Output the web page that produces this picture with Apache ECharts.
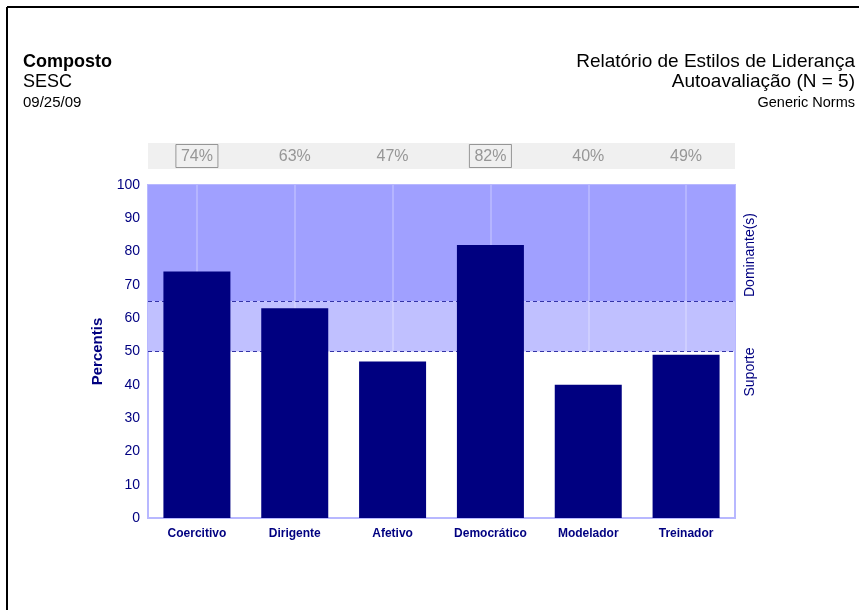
<!DOCTYPE html>
<html><head><meta charset="utf-8">
<script src="https://cdn.jsdelivr.net/npm/echarts@6/dist/echarts.min.js"></script>
<style>html,body{margin:0;padding:0;background:#fff}#c{width:859px;height:610px}</style>
</head><body><div id="c"></div>
<script>
const categories = ['Coercitivo','Dirigente','Afetivo','Democrático','Modelador','Treinador'];
const values = [74, 63, 47, 82, 40, 49];
const pctLabels = ['74%','63%','47%','82%','40%','49%'];
const dominantLimit = 65;
const supportLimit = 50;

const chart = echarts.init(document.getElementById('c'));
const navy = '#000080';
const F = 'Liberation Sans, Arial, sans-serif';
chart.setOption({
  animation: false,
  backgroundColor: '#fff',
  textStyle: {fontFamily: F},
  grid: [
    {left: 148, right: 124, top: 185, height: 333, show: true, borderColor: '#b8b8ff', borderWidth: 2, backgroundColor: 'transparent'},
    {left: 148, right: 124, top: 143, height: 26, show: true, borderWidth: 0, backgroundColor: '#f0f0f0'}
  ],
  xAxis: [
    {type: 'category', gridIndex: 0, data: categories,
     axisLine: {lineStyle: {color: '#b8b8ff', width: 2}}, axisTick: {show: false},
     axisLabel: {interval: 0, color: navy, fontWeight: 'bold', fontSize: 12, margin: 10},
     splitLine: {show: false}},
    {type: 'category', gridIndex: 1, data: categories, show: false}
  ],
  yAxis: [
    {type: 'value', gridIndex: 0, min: 0, max: 100, interval: 10,
     name: 'Percentis', nameLocation: 'middle', nameGap: 38, nameRotate: 90,
     nameTextStyle: {color: navy, fontWeight: 'bold', fontSize: 15},
     axisLine: {show: true, lineStyle: {color: '#b8b8ff', width: 2}}, axisTick: {show: false},
     axisLabel: {color: navy, fontSize: 14, margin: 8},
     splitLine: {show: false}},
    {type: 'value', gridIndex: 1, min: -1, max: 1, show: false}
  ],
  series: [
    {type: 'line', xAxisIndex: 0, yAxisIndex: 0, data: categories.map(() => null), z: 1, silent: true,
     markArea: {silent: true, z: 1, label: {show: false},
       data: [
         [{yAxis: dominantLimit, itemStyle: {color: '#a0a0ff'}}, {yAxis: 100}],
         [{yAxis: supportLimit, itemStyle: {color: '#c0c0ff'}}, {yAxis: dominantLimit}]
       ]},
     markLine: {silent: true, z: 1, symbol: 'none', label: {show: false},
       data: [
         {yAxis: dominantLimit, lineStyle: {color: '#3434a8', type: [4, 3], width: 1}},
         {yAxis: supportLimit, lineStyle: {color: '#3434a8', type: [4, 3], width: 1}}
       ].concat(categories.map(c => ({xAxis: c, lineStyle: {color: 'rgba(255,255,255,0.3)', type: 'solid', width: 1.5}})))}
    },
    {type: 'bar', xAxisIndex: 0, yAxisIndex: 0, data: values, barWidth: 67, z: 5,
     itemStyle: {color: navy}},
    {type: 'scatter', xAxisIndex: 1, yAxisIndex: 1, symbolSize: 0, silent: true,
     data: values.map((v, i) => ({value: [categories[i], 0], v: v, lab: pctLabels[i]})),
     label: {show: true, position: 'inside',
       formatter: p => (p.data.v >= dominantLimit ? '{b|' : '{n|') + p.data.lab + '}',
       rich: {
         b: {color: '#808080', fontSize: 16, borderColor: '#808080', borderWidth: 1, padding: [4, 5, 3, 5], fontFamily: F},
         n: {color: '#808080', fontSize: 16, padding: [4, 5, 3, 5], fontFamily: F}
       }}}
  ],
  graphic: [
    {type: 'line', shape: {x1: 7, y1: 7, x2: 859, y2: 7}, style: {stroke: '#000', lineWidth: 2}},
    {type: 'line', shape: {x1: 7, y1: 7, x2: 7, y2: 610}, style: {stroke: '#000', lineWidth: 2}},
    {type: 'text', x: 23, y: 62, style: {text: 'Composto', font: 'bold 18px ' + F, fill: '#000', verticalAlign: 'middle'}},
    {type: 'text', x: 23, y: 82, style: {text: 'SESC', font: '18px ' + F, fill: '#000', verticalAlign: 'middle'}},
    {type: 'text', x: 23, y: 103, style: {text: '09/25/09', font: '15px ' + F, fill: '#000', verticalAlign: 'middle'}},
    {type: 'text', x: 855, y: 62, style: {text: 'Relatório de Estilos de Liderança', font: '19px ' + F, fill: '#000', align: 'right', verticalAlign: 'middle'}},
    {type: 'text', x: 855, y: 82, style: {text: 'Autoavaliação (N = 5)', font: '19px ' + F, fill: '#000', align: 'right', verticalAlign: 'middle'}},
    {type: 'text', x: 855, y: 103, style: {text: 'Generic Norms', font: '14.5px ' + F, fill: '#000', align: 'right', verticalAlign: 'middle'}},
    {type: 'text', x: 750, y: 255, rotation: Math.PI / 2, style: {text: 'Dominante(s)', font: '14px ' + F, fill: navy, align: 'center', verticalAlign: 'middle'}},
    {type: 'text', x: 750, y: 372, rotation: Math.PI / 2, style: {text: 'Suporte', font: '14px ' + F, fill: navy, align: 'center', verticalAlign: 'middle'}}
  ]
});
</script></body></html>
